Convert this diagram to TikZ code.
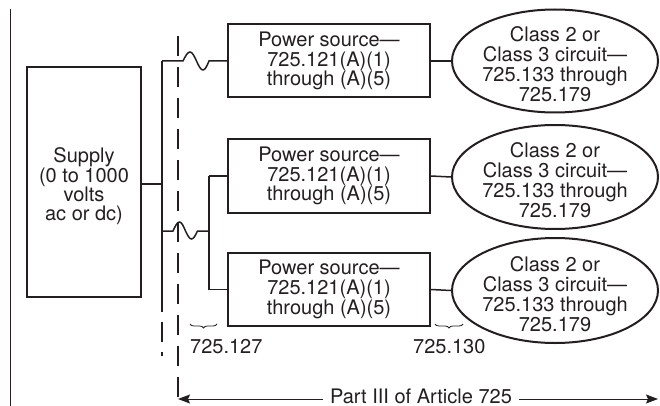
\documentclass[tikz,border=0pt]{standalone}
\usepackage{fontspec}
\setmainfont{TeX Gyre Heros}
\usetikzlibrary{arrows.meta,decorations.pathreplacing,shapes.geometric}
\definecolor{ink}{HTML}{231F20}
\begin{document}
\begin{tikzpicture}[x=1pt,y=-1pt,
  every node/.style={text=ink},
  boxnode/.style={draw=ink,line width=2pt,rectangle,align=center,inner sep=0pt,
    font=\fontsize{20}{19.7}\selectfont},
  ovalnode/.style={draw=ink,line width=2pt,ellipse,inner sep=0pt},
  ovaltext/.style={align=center,inner sep=0pt,font=\fontsize{20}{20}\selectfont},
  wire/.style={draw=ink,line width=1.5pt},
  bracemark/.style={draw=ink,line width=0.8pt,decorate,decoration={brace,mirror,amplitude=4pt}},
  labeltext/.style={font=\fontsize{20}{22}\selectfont,inner sep=0pt},
  tip/.style={-{Stealth[length=12pt,width=9pt,inset=2pt]}}
]
\useasboundingbox (0,0) rectangle (660,406);

% left margin line
\coordinate (lt) at (10,9);
\coordinate (lb) at (10,406);
\draw[draw=ink,line width=1pt] (lt) -- (lb);

% supply
\node[boxnode,minimum width=114pt,minimum height=230pt] (supply) at (84,182) {};
\node[ovaltext,font=\fontsize{20}{18.7}\selectfont] (supplytext) at (84,186) {Supply\\(0 to 1000\\volts\\ac or dc)};

% power sources
\foreach \i/\y in {1/61,2/176,3/289.5}{
  \node[boxnode,minimum width=202pt,minimum height=73pt] (ps\i) at (329,\y) {Power source\textemdash\\725.121(A)(1)\\through (A)(5)};
}
% ellipses
\foreach \i/\y/\h in {1/61/103,2/177/104,3/290.5/105}{
  \node[ovalnode,minimum width=206pt,minimum height=\h pt] (el\i) at (555,\y) {};
  \node[ovaltext] (eltext\i) at (555,\y+3.5) {Class 2 or\\Class 3 circuit\textemdash\\725.133 through\\725.179};
}

\foreach \i in {1,2,3}{ \draw[wire] (ps\i.east) -- (el\i.west); }

% bus
\coordinate (bt) at (162,61);
\coordinate (b0) at (162,184);
\coordinate (bm) at (162,231);
\coordinate (bb) at (162,292);
\coordinate (bd) at (162,356);
\draw[wire] (supply.east |- b0) -- (b0);
\draw[wire] (bt) -- (bb);
\draw[wire,line width=1.2pt,dash pattern=on 20pt off 10pt] (bb) -- (bd);

% top branch with crossing wiggle
\draw[wire] (bt) -- ++(21,0) sin ++(7,-9) cos ++(6.5,9) sin ++(6.5,9) cos ++(6,-9) -- (ps1.west);

% second branch
\coordinate (s2) at (209,176);
\coordinate (s3) at (209,289.5);
\draw[wire] (bm) -- ++(11,0) sin ++(6.5,-9) cos ++(6,9) sin ++(6,8) cos ++(6,-8) -- (bm -| s2);
\draw[wire] (s2) -- (s3);
\draw[wire] (s2) -- (ps2.west);
\draw[wire] (s3) -- (ps3.west);

% dashed boundary
\coordinate (dt) at (178,36);
\coordinate (db) at (178,406);
\draw[draw=ink,line width=1.2pt,dash pattern=on 20pt off 11pt] (dt) -- (db);

% braces
\coordinate (br1a) at (190,324);
\coordinate (br1b) at (217,324);
\draw[bracemark] (br1a) -- (br1b);
\node[labeltext,anchor=west] (t127) at (190,347) {725.127};
\coordinate (br2a) at (435,324);
\coordinate (br2b) at (463,324);
\draw[bracemark] (br2a) -- (br2b);
\node[labeltext,anchor=west] (t130) at (413,347) {725.130};

% Part III arrow
\coordinate (al) at (178,399);
\coordinate (ar) at (658,399);
\node[labeltext,inner xsep=7pt,anchor=base] (part) at (421,403) {Part III of Article 725};
\draw[draw=ink,line width=1pt,tip] (part.west |- al) -- (al);
\draw[draw=ink,line width=1pt,tip] (part.east |- ar) -- (ar);
\end{tikzpicture}
\end{document}
